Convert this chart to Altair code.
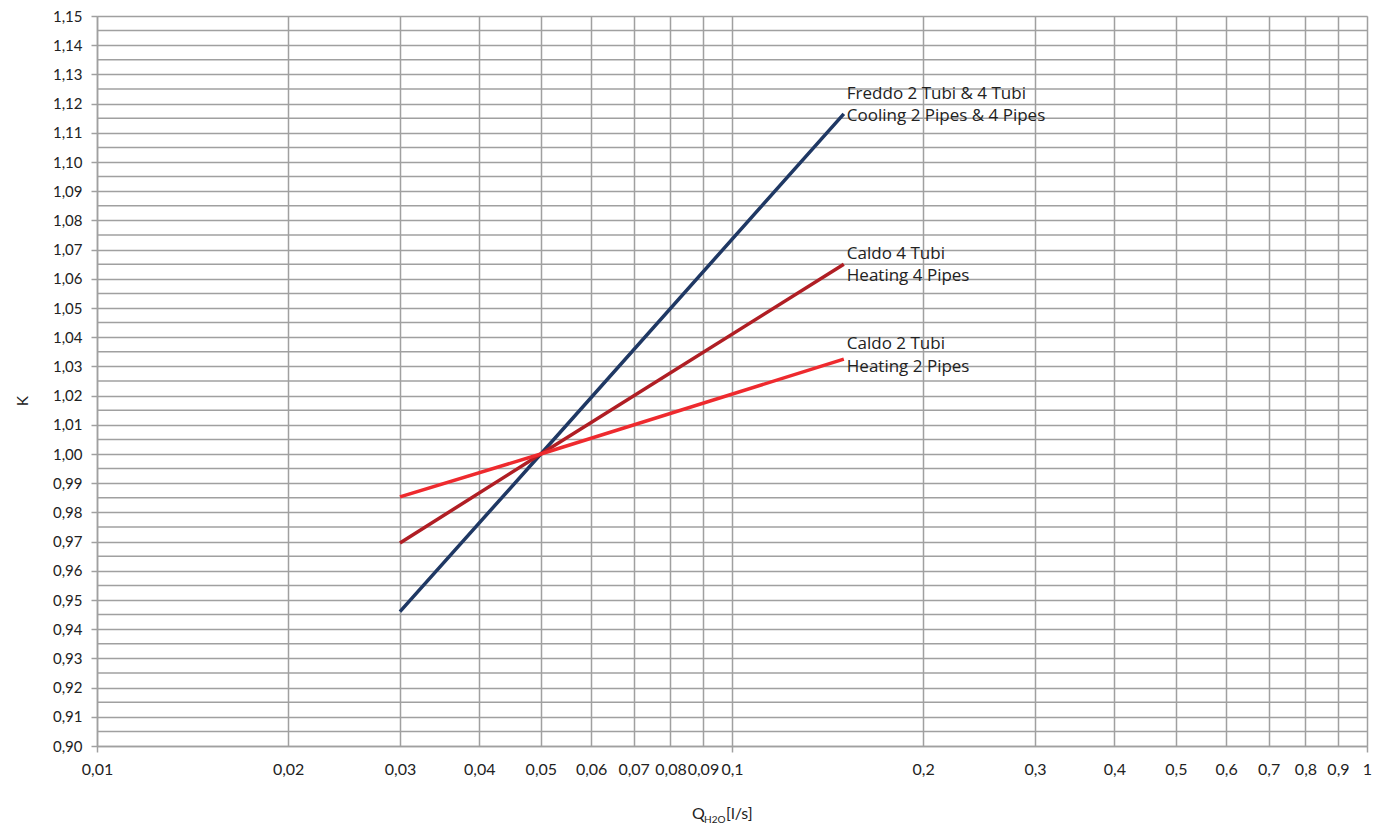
import altair as alt
import pandas as pd

# Data
series_names = ["Freddo 2 Tubi & 4 Tubi", "Caldo 4 Tubi", "Caldo 2 Tubi"]
q_values = [0.03, 0.05, 0.15]
k_freddo = [0.946, 1.000, 1.1165]
k_caldo4 = [0.9695, 1.000, 1.0650]
k_caldo2 = [0.9853, 1.000, 1.0325]
series_colors = ["#1f3864", "#b01e24", "#ee2a2e"]

label_lines = [
    "Freddo 2 Tubi & 4 Tubi", "Cooling 2 Pipes & 4 Pipes",
    "Caldo 4 Tubi", "Heating 4 Pipes",
    "Caldo 2 Tubi", "Heating 2 Pipes",
]
label_q = [0.15] * 6
label_k = [1.1233, 1.1158, 1.0685, 1.0610, 1.0377, 1.0298]

x_ticks = [0.01, 0.02, 0.03, 0.04, 0.05, 0.06, 0.07, 0.08, 0.09,
           0.1, 0.2, 0.3, 0.4, 0.5, 0.6, 0.7, 0.8, 0.9, 1]
y_ticks = [round(0.90 + 0.01 * i, 2) for i in range(26)]
y_minor = [round(0.905 + 0.01 * i, 3) for i in range(25)]

rows = []
for name, ks in zip(series_names, [k_freddo, k_caldo4, k_caldo2]):
    for q, k in zip(q_values, ks):
        rows.append({"series": name, "Q": q, "K": k})
df = pd.DataFrame(rows)
labels_df = pd.DataFrame({"text": label_lines, "Q": label_q, "K": label_k})
minor_df = pd.DataFrame({"K": y_minor})

FONT = "Lato"
GRID = "#a0a0a0"

x_scale = alt.Scale(type="log", domain=[0.01, 1], nice=False)
y_scale = alt.Scale(domain=[0.90, 1.15], nice=False, zero=False)

x_axis = alt.Axis(
    values=x_ticks,
    labelExpr="replace(format(datum.value, '.2~f'), '.', ',')",
    labelOverlap=False, labelFlush=False, labelBound=False,
    grid=True, gridColor=GRID, gridWidth=1.5,
    domainColor=GRID, domainWidth=1.5,
    tickSize=6, tickWidth=1.5,
    tickColor={"condition": {"test": "abs(log(datum.value)/LN10 - round(log(datum.value)/LN10)) < 0.001", "value": GRID}, "value": "transparent"},
    labelPadding=9, labelFont=FONT, labelFontSize=16, labelColor="#222222",
    title=None,
)
y_axis = alt.Axis(
    values=y_ticks,
    labelExpr="replace(format(datum.value, '.2f'), '.', ',')",
    labelOverlap=False, labelFlush=False, labelBound=False,
    grid=True, gridColor=GRID, gridWidth=1.5,
    domainColor=GRID, domainWidth=1.5,
    tickSize=6, tickWidth=1.5, tickColor=GRID,
    labelPadding=9, labelFont=FONT, labelFontSize=15, labelColor="#222222",
    title=None,
)

minor = alt.Chart(minor_df).mark_rule(color=GRID, strokeWidth=1.5).encode(
    y=alt.Y("K:Q", scale=y_scale, axis=y_axis),
)

lines = alt.Chart(df).mark_line(strokeWidth=3.5, clip=False).encode(
    x=alt.X("Q:Q", scale=x_scale, axis=x_axis),
    y=alt.Y("K:Q", scale=y_scale, axis=y_axis),
    color=alt.Color("series:N", scale=alt.Scale(domain=series_names, range=series_colors), legend=None),
    detail="series:N",
)

texts = alt.Chart(labels_df).mark_text(
    align="left", baseline="middle", dx=3, font="Open Sans", fontSize=17, color="#222222"
).encode(
    x=alt.X("Q:Q", scale=x_scale, axis=x_axis),
    y=alt.Y("K:Q", scale=y_scale, axis=y_axis),
    text="text:N",
)

one = pd.DataFrame({"a": [0]})
q_title = alt.Chart(one).mark_text(align="left", baseline="alphabetic", font=FONT, fontSize=16, color="#222222", text="Q").encode(
    x=alt.value(595), y=alt.value(803))
sub_title = alt.Chart(one).mark_text(align="left", baseline="alphabetic", font=FONT, fontSize=10, color="#222222", text="H2O").encode(
    x=alt.value(607), y=alt.value(807))
unit_title = alt.Chart(one).mark_text(align="left", baseline="alphabetic", font=FONT, fontSize=16, color="#222222", text="[l/s]").encode(
    x=alt.value(629), y=alt.value(803))
k_title = alt.Chart(one).mark_text(align="center", baseline="middle", font=FONT, fontSize=15, color="#222222", text="K", angle=270).encode(
    x=alt.value(-74), y=alt.value(385))

chart = alt.layer(minor, lines, texts, q_title, sub_title, unit_title, k_title).properties(
    width=1270, height=730,
    autosize=alt.AutoSizeParams(type="none"),
    padding={"left": 89, "top": 8, "right": 7, "bottom": 80},
).configure_view(stroke=None).configure(background="white")

chart.save("out.html", embed_options={"renderer": "svg", "actions": False})
